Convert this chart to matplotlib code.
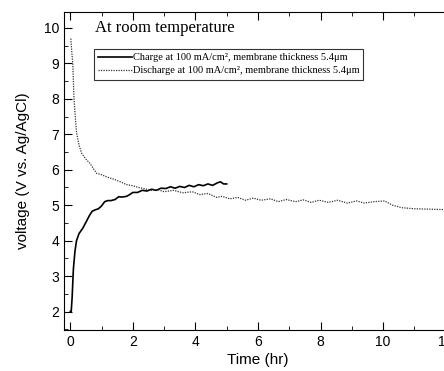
import matplotlib
matplotlib.use("Agg")
import matplotlib.pyplot as plt
from matplotlib.ticker import MultipleLocator

charge_t = [0, 0.03, 0.06, 0.1, 0.15, 0.2, 0.28, 0.4, 0.52, 0.62, 0.7, 0.8, 0.9, 1.0,
            1.1, 1.2, 1.3, 1.43, 1.55, 1.65, 1.8, 1.9, 2.0, 2.15, 2.3, 2.45, 2.6, 2.75,
            2.9, 3.05, 3.2, 3.35, 3.5, 3.65, 3.8, 3.95, 4.1, 4.25, 4.4, 4.55, 4.7, 4.8,
            4.9, 5.0]
charge_v = [2.0, 2.0, 2.4, 3.2, 3.7, 4.0, 4.2, 4.35, 4.55, 4.72, 4.83, 4.87, 4.9, 4.98,
            5.1, 5.13, 5.13, 5.16, 5.24, 5.23, 5.25, 5.3, 5.36, 5.36, 5.42, 5.4, 5.45,
            5.42, 5.48, 5.47, 5.52, 5.48, 5.53, 5.5, 5.56, 5.52, 5.58, 5.55, 5.6, 5.56,
            5.63, 5.66, 5.6, 5.6]

dis_t = [0.02, 0.05, 0.08, 0.1, 0.12, 0.16, 0.2, 0.28, 0.36, 0.5, 0.63, 0.75, 0.84, 1.0,
         1.16, 1.3, 1.43, 1.6, 1.8, 2.0, 2.18, 2.4, 2.6, 2.8, 3.0, 3.3, 3.6, 3.9, 4.14,
         4.4, 4.68, 4.85, 5.1, 5.35, 5.6, 5.85, 6.1, 6.4, 6.65, 6.9, 7.2, 7.45, 7.7, 7.95,
         8.25, 8.55, 8.85, 9.15, 9.4, 9.7, 10.05, 10.3, 10.6, 11.0, 11.4, 11.8, 12.2]
dis_v = [9.7, 9.3, 9.0, 8.5, 8.0, 7.5, 7.05, 6.7, 6.47, 6.3, 6.18, 6.02, 5.9, 5.86,
         5.8, 5.76, 5.72, 5.66, 5.58, 5.55, 5.5, 5.46, 5.42, 5.44, 5.38, 5.42, 5.35, 5.38,
         5.3, 5.33, 5.22, 5.25, 5.18, 5.22, 5.14, 5.2, 5.14, 5.18, 5.1, 5.16, 5.1, 5.15,
         5.08, 5.14, 5.08, 5.14, 5.06, 5.12, 5.06, 5.1, 5.12, 5.0, 4.93, 4.9, 4.89, 4.88,
         4.87]

plt.rcParams['font.family'] = 'Liberation Sans'

fig = plt.figure(figsize=(4.44, 3.71), dpi=100)
W, H = 444, 371
ax = fig.add_axes([64 / W, 1 - 330 / H, 388 / W, 318 / H])

ax.plot(charge_t, charge_v, color='black', lw=1.2,
        label='Charge at 100 mA/cm², membrane thickness 5.4μm')
ax.plot(dis_t, dis_v, color='#333333', lw=0.9, linestyle=(0, (1, 1)),
        label='Discharge at 100 mA/cm², membrane thickness 5.4μm')

ax.set_xlim(-0.2, 12.2)
ax.set_ylim(1.48, 10.45)
ax.xaxis.set_major_locator(MultipleLocator(2))
ax.xaxis.set_minor_locator(MultipleLocator(1))
ax.yaxis.set_major_locator(MultipleLocator(1))
ax.yaxis.set_minor_locator(MultipleLocator(0.5))
ax.tick_params(which='both', direction='in', top=True, right=False, labelsize=10)
ax.tick_params(which='major', length=6)
ax.tick_params(which='minor', length=3)
ax.spines['right'].set_visible(False)

ax.set_xlabel('Time (hr)', fontsize=11, labelpad=3)
ax.set_ylabel('voltage (V vs. Ag/AgCl)', fontsize=11, labelpad=10)

ax.text(95 / W, 1 - 28 / H, 'At room temperature', transform=fig.transFigure,
        family='Liberation Serif', fontsize=12, va='center')

leg = ax.legend(loc='upper left', bbox_to_anchor=(94 / W, 1 - 49 / H),
                bbox_transform=fig.transFigure, prop={'family': 'Liberation Serif', 'size': 7.5},
                frameon=True, fancybox=False, edgecolor='black', borderpad=0.4,
                handlelength=3.2, handletextpad=0.1, labelspacing=0.35, borderaxespad=0)
leg.get_frame().set_linewidth(0.8)

fig.savefig('out.png', dpi=100)
